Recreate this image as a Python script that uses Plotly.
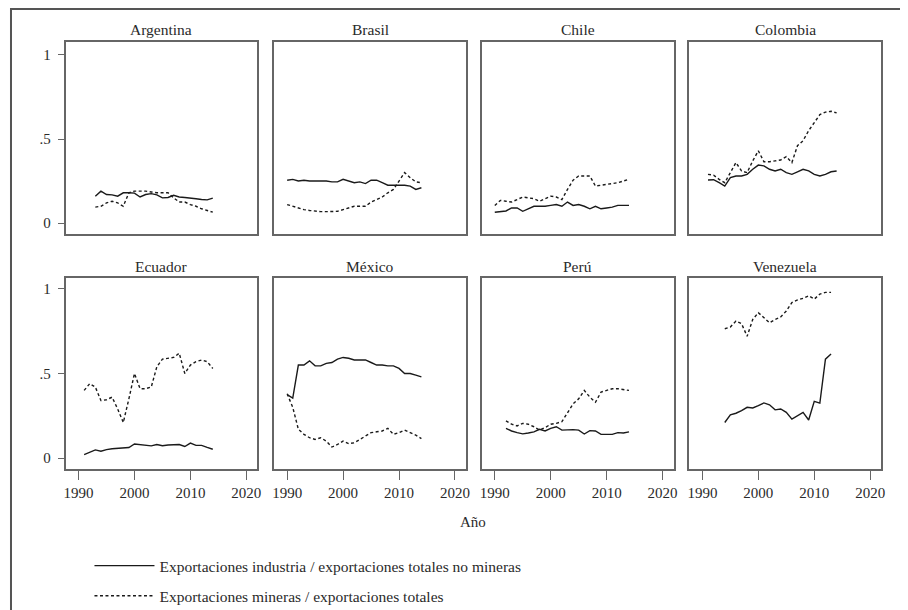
import plotly.graph_objects as go

# ---------------- data ----------------
countries = ["Argentina", "Brasil", "Chile", "Colombia", "Ecuador", "México", "Perú", "Venezuela"]

arg_years = list(range(1993, 2015))
arg_ind = [0.16, 0.19, 0.17, 0.168, 0.16, 0.18, 0.18, 0.178, 0.155, 0.17, 0.175, 0.168,
           0.15, 0.152, 0.165, 0.155, 0.152, 0.15, 0.145, 0.14, 0.138, 0.148]
arg_min = [0.095, 0.10, 0.12, 0.13, 0.12, 0.10, 0.18, 0.19, 0.19, 0.19, 0.185, 0.18,
           0.18, 0.18, 0.15, 0.125, 0.125, 0.11, 0.10, 0.085, 0.075, 0.065]

bra_years = list(range(1990, 2015))
bra_ind = [0.255, 0.26, 0.25, 0.255, 0.25, 0.25, 0.25, 0.25, 0.245, 0.245, 0.26, 0.25,
           0.24, 0.245, 0.235, 0.255, 0.255, 0.24, 0.225, 0.225, 0.225, 0.225, 0.22, 0.20, 0.21]
bra_min = [0.11, 0.10, 0.09, 0.08, 0.075, 0.07, 0.068, 0.068, 0.068, 0.07, 0.08, 0.09,
           0.10, 0.10, 0.10, 0.125, 0.14, 0.155, 0.18, 0.20, 0.25, 0.30, 0.27, 0.245, 0.24]

chi_years = list(range(1990, 2015))
chi_ind = [0.064, 0.07, 0.072, 0.09, 0.09, 0.07, 0.085, 0.10, 0.10, 0.10, 0.105, 0.11,
           0.10, 0.125, 0.105, 0.11, 0.10, 0.085, 0.10, 0.085, 0.09, 0.095, 0.105, 0.105, 0.105]
chi_min = [0.105, 0.135, 0.13, 0.125, 0.14, 0.155, 0.15, 0.145, 0.13, 0.145, 0.16, 0.155,
           0.14, 0.20, 0.255, 0.28, 0.28, 0.28, 0.22, 0.225, 0.23, 0.232, 0.24, 0.25, 0.26]

col_years = list(range(1991, 2015))
col_ind = [0.256, 0.258, 0.24, 0.22, 0.27, 0.28, 0.28, 0.29, 0.32, 0.345, 0.34, 0.32,
           0.31, 0.32, 0.30, 0.29, 0.305, 0.32, 0.31, 0.29, 0.28, 0.29, 0.305, 0.31]
col_min = [0.29, 0.285, 0.26, 0.24, 0.30, 0.36, 0.31, 0.30, 0.37, 0.43, 0.365, 0.365,
           0.37, 0.375, 0.395, 0.36, 0.46, 0.49, 0.55, 0.60, 0.645, 0.66, 0.665, 0.655]

ecu_years = list(range(1991, 2015))
ecu_ind = [0.02, 0.035, 0.048, 0.04, 0.05, 0.055, 0.058, 0.058, 0.062, 0.083, 0.078, 0.073,
           0.072, 0.08, 0.073, 0.077, 0.078, 0.08, 0.068, 0.088, 0.075, 0.075, 0.063, 0.052]
ecu_min = [0.40, 0.44, 0.42, 0.34, 0.345, 0.36, 0.29, 0.21, 0.35, 0.50, 0.41, 0.41,
           0.42, 0.54, 0.585, 0.59, 0.595, 0.62, 0.50, 0.55, 0.57, 0.58, 0.57, 0.53]

mex_years = list(range(1990, 2015))
mex_ind = [0.375, 0.355, 0.55, 0.55, 0.575, 0.545, 0.545, 0.56, 0.565, 0.585, 0.595, 0.59,
           0.58, 0.578, 0.58, 0.565, 0.55, 0.55, 0.545, 0.545, 0.53, 0.50, 0.50, 0.49, 0.48]
mex_min = [0.38, 0.30, 0.17, 0.14, 0.12, 0.11, 0.12, 0.10, 0.065, 0.08, 0.10, 0.085,
           0.09, 0.11, 0.13, 0.15, 0.155, 0.16, 0.175, 0.14, 0.15, 0.165, 0.15, 0.135, 0.115]

per_years = list(range(1992, 2015))
per_ind = [0.175, 0.16, 0.15, 0.143, 0.148, 0.155, 0.17, 0.16, 0.175, 0.185, 0.165, 0.168,
           0.168, 0.165, 0.142, 0.162, 0.16, 0.14, 0.14, 0.14, 0.15, 0.148, 0.155]
per_min = [0.22, 0.20, 0.19, 0.205, 0.20, 0.185, 0.165, 0.18, 0.20, 0.205, 0.215, 0.27,
           0.32, 0.35, 0.40, 0.36, 0.33, 0.39, 0.40, 0.41, 0.41, 0.405, 0.40]

ven_years = list(range(1994, 2014))
ven_ind = [0.21, 0.255, 0.265, 0.28, 0.30, 0.296, 0.31, 0.326, 0.315, 0.285, 0.29, 0.27,
           0.23, 0.25, 0.27, 0.225, 0.335, 0.325, 0.585, 0.615]
ven_min = [0.765, 0.775, 0.81, 0.795, 0.72, 0.82, 0.86, 0.83, 0.80, 0.82, 0.835, 0.87,
           0.92, 0.935, 0.945, 0.96, 0.94, 0.97, 0.98, 0.98]

series = [
    (arg_years, arg_ind, arg_min), (bra_years, bra_ind, bra_min),
    (chi_years, chi_ind, chi_min), (col_years, col_ind, col_min),
    (ecu_years, ecu_ind, ecu_min), (mex_years, mex_ind, mex_min),
    (per_years, per_ind, per_min), (ven_years, ven_ind, ven_min),
]

x_ticks = [1990, 2000, 2010, 2020]
y_ticks = [0, 0.5, 1]
y_ticktext = ["0", ".5", "1"]

name_ind = "Exportaciones industria / exportaciones totales no mineras"
name_min = "Exportaciones mineras / exportaciones totales"

# ---------------- layout geometry (page has an 8px body margin) ----------------
W, H = 908, 610
FONT = "Liberation Serif"
col_left = [56, 266, 475, 684]
panel_w = 193
row_top = [34, 270]
row_h = [192, 191]
y_ranges = [[-0.065, 1.077], [-0.065, 1.065]]
x_range = [1987.69, 2021.97]
frame_col = "#666666"
line_col = "#1a1a1a"
text_col = "#2a2a2a"

fig = go.Figure()
layout_axes = {}
annotations = []

for i, (cname, (yrs, ind, mn)) in enumerate(zip(countries, series)):
    r, c = divmod(i, 4)
    n = i + 1
    xa = "x" if n == 1 else f"x{n}"
    ya = "y" if n == 1 else f"y{n}"
    fig.add_trace(go.Scatter(
        x=yrs, y=ind, mode="lines", xaxis=xa, yaxis=ya,
        line=dict(color=line_col, width=1.4),
        name=name_ind, legendgroup="ind", showlegend=(i == 0),
    ))
    fig.add_trace(go.Scatter(
        x=yrs, y=mn, mode="lines", xaxis=xa, yaxis=ya,
        line=dict(color=line_col, width=1.4, dash="3px,2.5px"),
        name=name_min, legendgroup="min", showlegend=(i == 0),
    ))
    x0 = col_left[c] / W
    x1 = (col_left[c] + panel_w) / W
    y1 = 1 - row_top[r] / H
    y0 = 1 - (row_top[r] + row_h[r]) / H
    xkey = "xaxis" if n == 1 else f"xaxis{n}"
    ykey = "yaxis" if n == 1 else f"yaxis{n}"
    layout_axes[xkey] = dict(
        domain=[x0, x1], anchor=ya, range=x_range,
        showgrid=False, zeroline=False,
        showline=True, mirror=True, linecolor=frame_col, linewidth=1.6,
        tickvals=x_ticks if r == 1 else [],
        ticks="outside" if r == 1 else "",
        ticklen=9, tickwidth=1.2, tickcolor=frame_col,
        showticklabels=(r == 1),
        tickfont=dict(family=FONT, size=15, color=text_col),
    )
    layout_axes[ykey] = dict(
        domain=[y0, y1], anchor=xa, range=y_ranges[r],
        showgrid=False, zeroline=False,
        showline=True, mirror=True, linecolor=frame_col, linewidth=1.6,
        tickvals=y_ticks if c == 0 else [],
        ticktext=y_ticktext if c == 0 else [],
        ticks="outside" if c == 0 else "",
        ticklen=6, tickwidth=1.2, tickcolor=frame_col,
        showticklabels=(c == 0),
        ticklabelstandoff=4,
        tickfont=dict(family=FONT, size=15, color=text_col),
    )
    annotations.append(dict(
        text=cname, xref="paper", yref="paper",
        x=(x0 + x1) / 2, y=1 - (row_top[r] - 12) / H, xanchor="center", yanchor="middle",
        showarrow=False, font=dict(family=FONT, size=15.5, color=text_col),
    ))

annotations.append(dict(
    text="Año", xref="paper", yref="paper", x=466 / W, y=1 - 514 / H,
    xanchor="center", yanchor="middle", showarrow=False,
    font=dict(family=FONT, size=15, color=text_col),
))

fig.update_layout(
    width=W, height=H,
    margin=dict(l=0, r=0, t=0, b=0),
    paper_bgcolor="white", plot_bgcolor="white",
    font=dict(family=FONT, size=15, color=text_col),
    annotations=annotations,
    showlegend=True,
    legend=dict(
        x=80 / W, y=1 - 541 / H, xanchor="left", yanchor="top",
        orientation="v", tracegroupgap=7,
        font=dict(family=FONT, size=15.5, color=text_col),
        bgcolor="rgba(0,0,0,0)", itemwidth=60,
    ),
    shapes=[dict(
        type="rect", xref="paper", yref="paper",
        x0=1 / W, x1=1.2, y0=-0.2, y1=1 - 1 / H,
        line=dict(color="#555555", width=2), fillcolor="rgba(0,0,0,0)",
    )],
    **layout_axes,
)

fig.write_html("out.html")
